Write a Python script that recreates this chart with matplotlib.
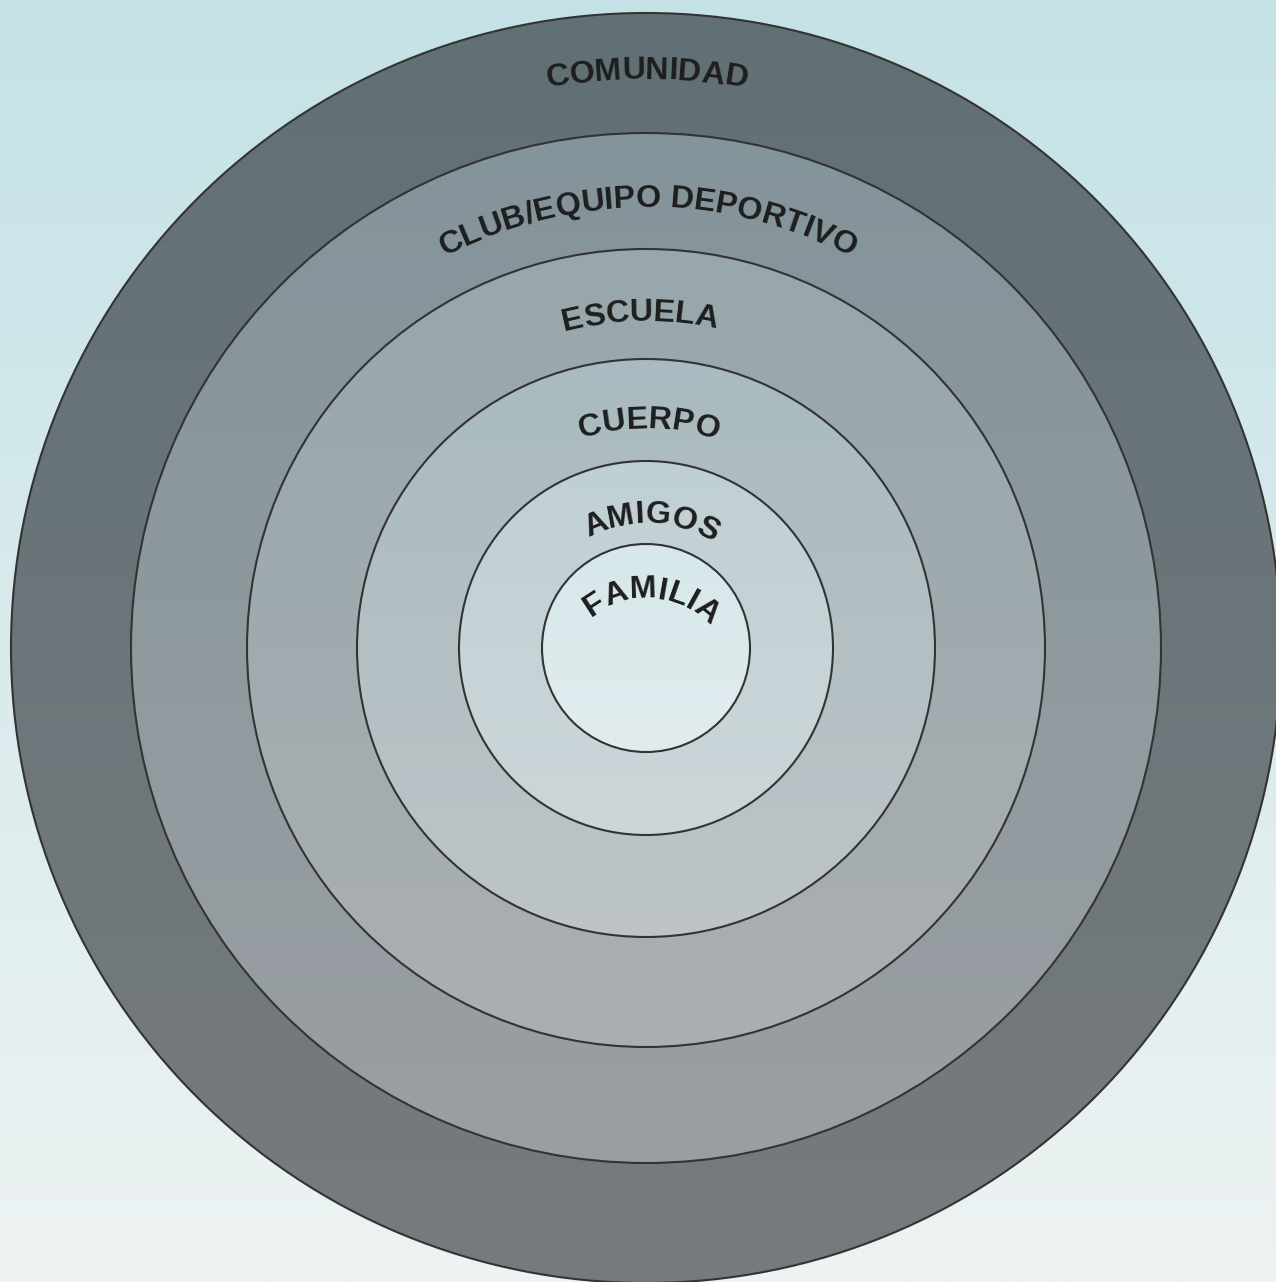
import numpy as np
import matplotlib
matplotlib.use("Agg")
import matplotlib.pyplot as plt
from matplotlib.patches import Circle
from matplotlib.colors import to_rgb
from matplotlib.font_manager import FontProperties

# ---- data ----
labels = ["COMUNIDAD", "CLUB/EQUIPO DEPORTIVO", "ESCUELA", "CUERPO", "AMIGOS", "FAMILIA"]
radii = [635, 515, 399, 289, 187, 104]            # circle radii (px)
label_radii = [569, 441, 327, 220, 125, 86]      # baseline radii for curved labels
label_center_dy = [0, 0, 0, 0, 0, 36]            # arc centre shift downwards (px)
label_shift = [1, 2, -6, 3, 5, 6]                # shift along arc to the right (px)
top_colors = ["#617075", "#83949a", "#97a7ac", "#a9bbc0", "#bfd0d5", "#d6e8eb"]
bottom_colors = ["#777b7e", "#9b9fa3", "#abafb2", "#bec4c7", "#cdd6d9", "#e2ecee"]
bg_top, bg_bottom = "#c4e2e6", "#eef3f3"

W, H = 1276, 1282
cx, cy = 646, H - 648

fig = plt.figure(figsize=(W / 100, H / 100), dpi=100)
ax = fig.add_axes([0, 0, 1, 1])
ax.set_xlim(0, W)
ax.set_ylim(0, H)
ax.axis("off")


def vgrad(c_top, c_bot, n=256):
    t = np.linspace(0, 1, n)[:, None]
    a = np.array(to_rgb(c_top))[None, :]
    b = np.array(to_rgb(c_bot))[None, :]
    g = a * (1 - t) + b * t
    return g[:, None, :]


# background
ax.imshow(vgrad(bg_top, bg_bottom), extent=[0, W, 0, H], origin="upper",
          aspect="auto", zorder=0, interpolation="bilinear")

for i, r in enumerate(radii):
    circ = Circle((cx, cy), r, facecolor="none", edgecolor="#333333", lw=1.5, zorder=2 + i * 2 + 1)
    im = ax.imshow(vgrad(top_colors[i], bottom_colors[i]),
                   extent=[cx - r, cx + r, cy - r, cy + r], origin="upper",
                   aspect="auto", zorder=2 + i * 2, interpolation="bilinear")
    clip = Circle((cx, cy), r, transform=ax.transData)
    im.set_clip_path(clip)
    ax.add_patch(circ)

ax.set_xlim(0, W)
ax.set_ylim(0, H)

prop = FontProperties(family="Liberation Sans", weight="bold", size=23.2)
fig.canvas.draw()
renderer = fig.canvas.get_renderer()


def char_w(s):
    w, h, d = renderer.get_text_width_height_descent(s, prop, ismath=False)
    return w


def curved(text, rb, dy, shift):
    ox, oy = cx, cy - dy
    widths = [char_w(c) for c in text]
    total = sum(widths)
    s = 0.0
    for c, w in zip(text, widths):
        mid = s + w / 2
        s += w
        if c == " ":
            continue
        theta = np.pi / 2 + (total / 2 - mid - shift) / rb
        x = ox + rb * np.cos(theta)
        y = oy + rb * np.sin(theta)
        ax.text(x, y, c, fontproperties=prop, color="#1e1e1e",
                rotation=np.degrees(theta) - 90, rotation_mode="anchor",
                ha="center", va="baseline", zorder=30)


for lab, rb, dy, sh in zip(labels, label_radii, label_center_dy, label_shift):
    curved(lab, rb, dy, sh)

fig.savefig("out.png", dpi=100)
